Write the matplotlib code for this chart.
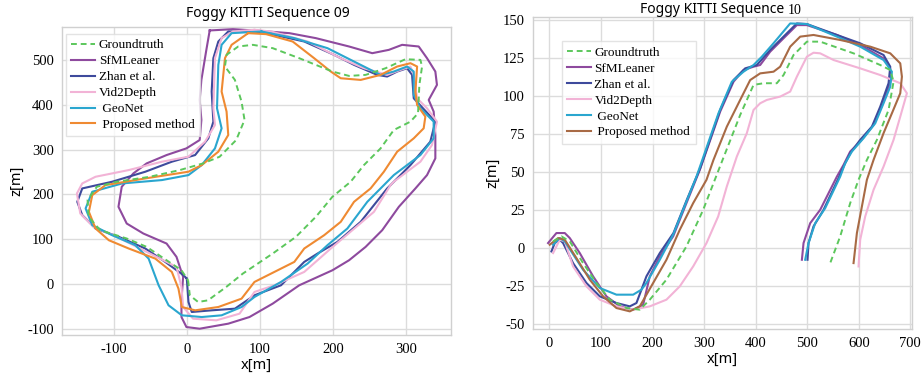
import numpy as np
import matplotlib
matplotlib.use('Agg')
import matplotlib.pyplot as plt

plt.rcParams['axes.unicode_minus'] = False

labels = ['Groundtruth', 'SfMLeaner', 'Zhan et al.', 'Vid2Depth', ' GeoNet', ' Proposed method']

# ---- Sequence 09 (x, z) ----
gt09_x = [1.8, 4.1, 15.5, 29.1, 54.1, 76.8, 117.7, 149.5, 176.8, 199.5, 224.5, 242.7, 265.5, 283.6, 306.4, 316.8,
          318.6, 322.3, 320.0, 299.5, 272.3, 245.0, 222.3, 199.5, 154.1, 117.7, 90.5, 70.5, 54.5, 52.3, 65.9, 75.0,
          79.1, 67.7, 45.0, 22.3, -9.5, -50.5, -95.9, -123.2, -135.9, -134.5, -118.6, -82.3, -55.0, -27.7, -7.3, 1.8]
gt09_z = [8.9, -24.5, -39.4, -35.7, -5.9, 23.8, 68.4, 105.6, 150.2, 194.8, 228.3, 265.4, 302.6, 343.5, 362.1, 380.7,
          443.9, 484.8, 499.6, 501.1, 481.0, 466.2, 463.9, 473.6, 503.3, 525.7, 533.1, 529.4, 510.8, 484.8, 455.0, 406.7,
          365.8, 321.2, 284.0, 269.1, 254.3, 239.4, 228.3, 217.1, 187.4, 150.2, 120.4, 101.9, 83.3, 53.5, 31.2, 8.9]

sfm09_x = [31.4, 63.2, 99.5, 140.5, 176.8, 222.3, 254.1, 276.8, 295.0, 317.7, 329.1, 340.5, 342.7, 331.4, 338.2, 340.5,
           340.5, 329.1, 313.2, 290.5, 267.7, 245.0, 222.3, 199.5, 154.1, 117.7, 85.9, 56.8, 17.7, -0.5, -7.3, -7.3,
           -5.0, -14.1, -27.7, -59.5, -82.3, -93.6, -89.1, -73.2, -55.0, -27.7, -0.5, 17.7, 20.0, 17.7, 20.0, 26.8, 31.4]
sfm09_z = [565.1, 568.0, 564.3, 559.1, 548.0, 529.4, 514.5, 521.9, 533.1, 529.4, 503.3, 473.6, 443.9, 410.4, 384.4, 332.3,
           280.3, 243.1, 213.4, 172.5, 120.4, 83.3, 53.5, 31.2, -2.2, -43.1, -72.9, -87.7, -98.9, -95.2, -72.9, -35.7,
           16.4, 61.0, 90.7, 113.0, 135.3, 172.5, 217.1, 246.8, 269.1, 287.7, 302.6, 321.2, 365.8, 410.4, 455.0, 521.9, 565.1]

zhan09_x = [0.0, 2.3, 6.8, 34.1, 65.9, 92.7, 129.1, 160.9, 179.1, 206.4, 238.2, 274.5, 290.5, 306.4, 333.6, 340.5,
            310.9, 308.6, 301.8, 288.2, 274.5, 260.9, 229.1, 201.8, 160.9, 115.5, 92.7, 56.8, 43.2, 36.4, 34.1, 36.4,
            29.5, 11.4, -20.5, -56.8, -102.3, -143.2, -150.0, -143.2, -125.0, -93.2, -56.8, -29.5, -4.5, 0.0]
zhan09_z = [12.6, -39.4, -61.7, -58.0, -54.3, -24.5, -2.2, 49.8, 68.4, 94.4, 139.0, 213.4, 239.4, 265.4, 317.5, 362.1,
            414.1, 466.2, 481.0, 473.6, 462.5, 466.2, 488.5, 510.8, 540.5, 556.9, 562.8, 562.8, 540.5, 503.3, 429.0, 362.1,
            324.9, 287.7, 272.9, 250.6, 228.3, 213.4, 183.6, 153.9, 124.2, 105.6, 79.6, 49.8, 20.1, 12.6]

vid09_x = [92.7, 115.5, 165.5, 210.9, 242.7, 274.5, 292.7, 306.4, 310.9, 315.5, 329.1, 342.7, 335.9, 320.0, 283.6,
           279.1, 256.4, 197.3, 160.9, 120.0, 92.7, 72.3, 40.5, 8.6, -5.0, -7.3, -14.1, -50.5, -95.9, -127.7, -145.9,
           -150.5, -143.2, -125.0, -79.5, -34.1, 2.3, 25.0, 38.6, 36.4, 38.6, 47.7, 63.2, 92.7]
vid09_z = [566.5, 562.8, 540.5, 503.3, 481.0, 466.2, 477.3, 484.8, 466.2, 414.1, 391.8, 362.1, 310.0, 272.9, 228.3,
           220.8, 161.3, 79.6, 27.5, -2.2, -17.1, -65.4, -80.3, -76.6, -50.6, -5.9, 38.7, 68.4, 105.6, 127.9, 157.6,
           202.2, 224.5, 239.4, 254.3, 272.9, 284.0, 317.5, 354.6, 391.8, 503.3, 548.0, 562.8, 566.5]

geo09_x = [102.3, 147.3, 192.7, 229.1, 265.5, 283.6, 301.8, 310.9, 310.9, 320.0, 338.2, 338.2, 320.0, 283.6, 265.5,
           247.3, 220.0, 192.7, 165.5, 129.1, 92.7, 75.0, 47.7, 20.5, -6.8, -25.0, -38.6, -52.3, -70.5, -102.3, -129.5,
           -138.6, -129.5, -88.6, -34.1, 2.3, 20.5, 38.6, 47.7, 41.4, 43.2, 47.7, 61.4, 102.3]
geo09_z = [562.8, 548.0, 525.7, 495.9, 466.2, 473.6, 484.8, 473.6, 421.6, 391.8, 362.1, 324.9, 287.7, 243.1, 213.4,
           183.6, 124.2, 87.0, 46.1, 5.2, -28.3, -50.6, -69.1, -72.9, -69.1, -46.8, -2.2, 57.2, 87.0, 109.3, 131.6,
           168.8, 206.0, 224.5, 232.0, 243.1, 265.4, 302.6, 347.2, 391.8, 488.5, 533.1, 559.1, 562.8]

prop09_x = [84.1, 108.6, 145.0, 174.5, 197.3, 210.9, 238.2, 265.5, 288.2, 306.4, 315.5, 313.2, 315.5, 326.8, 324.5,
            310.9, 288.2, 270.0, 251.8, 229.1, 210.9, 188.2, 160.9, 147.3, 120.0, 92.7, 75.0, 43.2, 11.4, -6.8, -11.4,
            -20.5, -43.2, -79.5, -106.8, -125.0, -134.1, -129.5, -111.4, -56.8, 2.3, 20.5, 43.2, 56.8, 54.5, 47.7,
            52.3, 61.4, 84.1]
prop09_z = [559.1, 556.9, 540.5, 503.3, 473.6, 458.7, 455.0, 466.2, 484.8, 492.2, 484.8, 429.0, 399.3, 373.2, 347.2,
            324.9, 295.2, 250.6, 213.4, 183.6, 139.0, 109.3, 79.6, 49.8, 27.5, 5.2, -32.0, -50.6, -58.0, -50.6, -9.7,
            27.5, 57.2, 79.6, 98.1, 124.2, 161.3, 198.5, 220.8, 235.7, 250.6, 265.4, 295.2, 332.3, 384.4, 429.0,
            503.3, 533.1, 559.1]

# ---- Sequence 10 (x, z) ----
gt10_x = [7.1, 23.3, 39.5, 65.3, 91.2, 117.1, 149.4, 175.3, 194.7, 227.0, 265.8, 298.2, 327.0, 370.0, 395.9, 415.3,
          441.1, 454.1, 473.5, 499.4, 525.2, 589.9, 641.7, 661.1, 667.5, 657.8, 635.2, 615.8, 599.6, 583.4, 564.0, 544.6]
gt10_z = [4.4, 7.7, 4.4, -9.9, -23.0, -34.0, -39.5, -40.6, -34.0, -20.8, 1.1, 25.2, 50.4, 87.7, 107.5, 108.6,
          108.6, 114.0, 127.2, 136.0, 136.0, 128.3, 120.6, 117.3, 109.6, 91.0, 71.3, 58.1, 45.0, 29.6, 7.7, -9.9]

sfm10_x = [-2.6, 13.6, 29.8, 39.5, 58.9, 84.7, 110.6, 136.5, 162.4, 181.8, 194.7, 214.1, 240.0, 265.8, 291.7, 331.2,
           357.1, 376.5, 395.9, 408.8, 428.2, 454.1, 479.9, 499.4, 557.6, 602.8, 648.1, 661.1, 661.1, 648.1, 628.7,
           602.8, 583.4, 570.5, 557.6, 525.2, 505.8, 492.9, 489.7]
sfm10_z = [3.3, 9.9, 9.9, 6.6, -3.3, -18.6, -31.8, -38.4, -40.6, -37.3, -18.6, -5.5, 7.7, 29.6, 51.5, 89.9,
           109.6, 117.3, 119.5, 120.6, 129.4, 138.2, 146.9, 146.9, 140.4, 133.8, 125.0, 118.4, 109.6, 96.5, 81.1,
           70.2, 63.6, 54.8, 47.1, 25.2, 16.4, 3.3, -7.7]

zhan10_x = [3.9, 10.3, 20.1, 26.5, 45.9, 71.8, 97.7, 130.0, 155.9, 168.8, 188.2, 214.1, 240.6, 266.5, 292.4, 331.2,
            357.1, 379.7, 402.3, 428.2, 454.1, 479.9, 499.4, 557.6, 602.8, 648.1, 661.1, 657.8, 641.7, 625.5, 602.8,
            583.4, 570.5, 560.8, 531.7, 512.3, 502.6, 500.6]
zhan10_z = [-2.2, 3.3, 5.5, 3.3, -9.9, -23.0, -31.8, -36.2, -38.4, -36.2, -18.6, -3.3, 9.9, 31.8, 52.6, 91.0,
            110.7, 118.4, 120.6, 130.5, 139.3, 148.0, 147.6, 140.4, 134.9, 127.2, 119.5, 108.6, 93.2, 80.0, 71.3,
            62.5, 53.7, 46.1, 25.2, 14.3, 3.3, -7.7]

vid10_x = [7.1, 20.1, 29.8, 45.9, 71.8, 97.7, 130.0, 162.4, 194.7, 227.0, 252.9, 278.8, 304.7, 327.3, 344.1, 363.5,
           382.9, 395.9, 408.8, 421.7, 447.6, 467.0, 479.9, 499.4, 512.3, 525.2, 551.1, 602.8, 641.7, 680.5, 693.4,
           680.5, 667.5, 648.1, 628.7, 612.5, 602.8, 599.6]
vid10_z = [-3.3, 5.5, 4.4, -12.1, -25.2, -34.0, -38.4, -40.6, -38.4, -34.0, -25.2, -12.1, 3.3, 20.8, 40.6, 60.3,
           75.7, 91.0, 95.4, 97.6, 99.8, 103.1, 112.9, 126.1, 128.7, 128.3, 123.9, 118.4, 114.0, 108.6, 102.0,
           86.6, 71.3, 53.7, 38.4, 20.8, 5.5, -12.1]

geo10_x = [7.1, 20.1, 29.8, 65.3, 97.7, 130.0, 162.4, 178.5, 188.2, 214.1, 240.0, 265.8, 285.3, 327.9, 353.8, 376.5,
           395.9, 412.0, 434.6, 467.0, 499.4, 557.6, 602.8, 648.1, 664.3, 661.1, 648.1, 632.0, 609.3, 586.7, 573.7,
           564.0, 534.9, 515.5, 502.6, 496.1]
geo10_z = [2.2, 6.6, 4.4, -14.3, -26.3, -30.7, -30.7, -27.4, -23.0, -7.7, 8.8, 30.7, 47.1, 88.8, 109.6, 116.2,
           120.6, 126.1, 134.9, 148.0, 147.6, 139.3, 132.7, 123.9, 116.2, 106.4, 95.4, 82.2, 72.4, 63.6, 55.9,
           47.1, 26.3, 16.4, 3.3, -7.7]

prop10_x = [0.6, 16.8, 29.8, 52.4, 78.3, 104.1, 130.0, 155.9, 175.3, 201.2, 227.0, 252.9, 278.8, 304.7, 318.2, 344.1,
            370.0, 389.4, 408.8, 434.7, 447.6, 467.0, 486.4, 512.3, 564.0, 622.3, 661.1, 680.5, 683.7, 680.5, 664.3,
            648.1, 628.7, 615.8, 606.1, 596.4, 589.9]
prop10_z = [2.2, 6.6, 5.5, -6.6, -20.8, -31.8, -39.5, -41.7, -38.4, -23.0, -7.7, 12.1, 29.6, 45.0, 58.1, 80.0,
            97.6, 110.7, 115.1, 116.2, 119.5, 132.7, 139.3, 140.4, 137.1, 132.7, 128.3, 121.7, 112.9, 102.0, 88.8,
            75.7, 58.1, 45.0, 27.4, 9.9, -9.9]

c_gt = '#5cc75c'
c_sfm = '#8e4a9e'
c_zhan = '#3e4a9c'
c_vid = '#f2b3d6'
c_geo = '#2aa6cf'
c_prop09 = '#ef8a32'
c_prop10 = '#a86a45'

serif = 'Liberation Serif'
sans = 'Noto Sans'

fig = plt.figure(figsize=(9.22, 3.79), dpi=100)
ax1 = fig.add_axes([0.0672, 0.116, 0.422, 0.813])
ax2 = fig.add_axes([0.578, 0.132, 0.411, 0.823])


def style(ax):
    ax.grid(True, color='#dcdcdc', linewidth=1.0)
    ax.set_axisbelow(True)
    for s in ax.spines.values():
        s.set_color('#d0d0d0')
        s.set_linewidth(1.0)
    ax.tick_params(length=0, pad=6, labelsize=10.5)
    for lab in ax.get_xticklabels() + ax.get_yticklabels():
        lab.set_fontfamily(serif)
    ax.set_xlabel('x[m]', family=sans, fontsize=10.5, labelpad=1)
    ax.set_ylabel('z[m]', family=sans, fontsize=10.5, labelpad=2)


def draw(ax, series, prop_color):
    colors = [c_gt, c_sfm, c_zhan, c_vid, c_geo, prop_color]
    for i, ((xs, zs), lab, c) in enumerate(zip(series, labels, colors)):
        if i == 0:
            ax.plot(xs, zs, color=c, lw=1.4, ls=(0, (3, 2)), label=lab, zorder=5)
        else:
            ax.plot(xs, zs, color=c, lw=1.5, label=lab, zorder=3)


leg_kw = dict(prop={'family': serif, 'size': 9.5}, frameon=True, edgecolor='#dddddd', fancybox=False,
              labelspacing=0.28, handlelength=1.8, handletextpad=0.3, borderpad=0.4, borderaxespad=0.3)

draw(ax1, [(gt09_x, gt09_z), (sfm09_x, sfm09_z), (zhan09_x, zhan09_z), (vid09_x, vid09_z),
           (geo09_x, geo09_z), (prop09_x, prop09_z)], c_prop09)
ax1.set_xlim(-171, 362)
ax1.set_ylim(-113, 573)
ax1.set_xticks([-100, 0, 100, 200, 300])
ax1.set_yticks([-100, 0, 100, 200, 300, 400, 500])
style(ax1)
ax1.text(0.53, 1.02, 'Foggy KITTI Sequence 09', transform=ax1.transAxes, ha='center', va='bottom',
         family=sans, fontsize=10)
ax1.legend(loc='upper left', bbox_to_anchor=(0.0, 0.99), **leg_kw)

draw(ax2, [(gt10_x, gt10_z), (sfm10_x, sfm10_z), (zhan10_x, zhan10_z), (vid10_x, vid10_z),
           (geo10_x, geo10_z), (prop10_x, prop10_z)], c_prop10)
ax2.set_xlim(-32, 703)
ax2.set_ylim(-53.3, 152.2)
ax2.set_xticks([0, 100, 200, 300, 400, 500, 600, 700])
ax2.set_yticks([-50, -25, 0, 25, 50, 75, 100, 125, 150])
style(ax2)
ax2.text(0.672, 1.0, 'Foggy KITTI Sequence ', transform=ax2.transAxes, ha='right', va='bottom',
         family=sans, fontsize=10)
ax2.text(0.672, 1.0, '10', transform=ax2.transAxes, ha='left', va='bottom', family=serif, fontsize=10)
ax2.legend(loc='upper left', bbox_to_anchor=(0.065, 0.935), **leg_kw)

fig.savefig('out.png', dpi=100, facecolor='white')
